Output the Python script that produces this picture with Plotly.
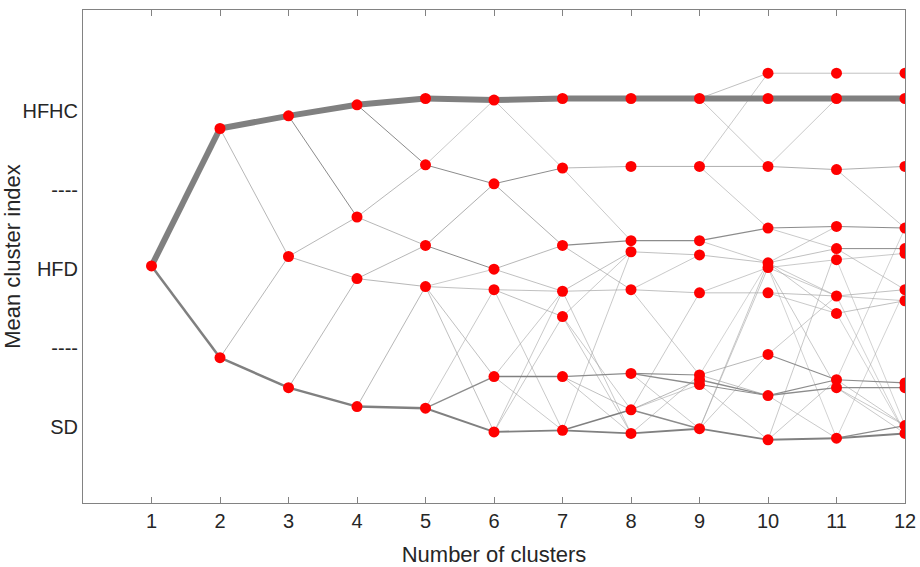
import plotly.graph_objects as go

# Mean cluster index of each cluster, for each number of clusters (k = 1..12)
cluster_means = [
    [2.02],
    [2.89, 1.44],
    [2.97, 2.08, 1.25],
    [3.04, 2.33, 1.94, 1.13],
    [3.08, 2.66, 2.15, 1.89, 1.12],
    [3.07, 2.54, 2.00, 1.87, 1.32, 0.97],
    [3.08, 2.64, 2.15, 1.86, 1.70, 1.32, 0.98],
    [3.08, 2.65, 2.18, 2.11, 1.87, 1.34, 1.11, 0.96],
    [3.08, 2.65, 2.18, 2.09, 1.85, 1.33, 1.30, 1.27, 0.99],
    [3.24, 3.08, 2.65, 2.26, 2.04, 2.01, 1.85, 1.46, 1.20, 0.92],
    [3.24, 3.08, 2.63, 2.27, 2.13, 2.06, 1.83, 1.72, 1.30, 1.25, 0.93],
    [3.24, 3.08, 2.65, 2.26, 2.13, 2.10, 1.87, 1.80, 1.28, 1.25, 1.01, 0.96],
]

# Transitions k -> k+1: (cluster index at k, cluster index at k+1, relative flow)
transitions = [
    [(0, 0, 6), (0, 1, 2.5)],
    [(0, 0, 6), (0, 1, 0.8), (1, 1, 0.8), (1, 2, 2.5)],
    [(0, 0, 6), (0, 1, 1), (1, 1, 0.8), (1, 2, 0.8), (2, 2, 0.8), (2, 3, 2.5)],
    [(0, 0, 6), (0, 1, 1), (1, 1, 0.8), (1, 2, 0.8), (2, 2, 0.8), (2, 3, 0.8),
     (3, 3, 0.8), (3, 4, 2.5)],
    [(0, 0, 6), (1, 0, 0.6), (1, 1, 1), (2, 1, 0.9), (2, 2, 1), (3, 2, 0.6),
     (3, 3, 0.7), (3, 4, 0.7), (3, 5, 0.7), (4, 3, 0.6), (4, 4, 1.4), (4, 5, 2)],
    [(0, 0, 6), (0, 1, 0.6), (1, 1, 1), (1, 2, 0.9), (2, 2, 0.8), (2, 3, 0.7),
     (3, 3, 0.7), (3, 4, 0.7), (3, 6, 0.6), (4, 3, 0.6), (4, 5, 1.5), (4, 6, 0.6),
     (5, 3, 0.6), (5, 4, 0.6), (5, 6, 1.8)],
    [(0, 0, 6), (1, 1, 0.8), (1, 2, 0.6), (2, 2, 1.2), (2, 4, 0.7), (3, 4, 0.7),
     (3, 3, 0.7), (3, 7, 0.6), (4, 3, 0.6), (4, 6, 0.6), (4, 7, 0.6), (5, 5, 1.3),
     (5, 6, 0.7), (5, 7, 0.6), (6, 6, 1.5), (6, 7, 1.8), (6, 3, 0.6)],
    [(0, 0, 6), (1, 1, 0.9), (2, 2, 1.2), (3, 3, 0.7), (4, 3, 0.6), (4, 4, 0.7),
     (4, 5, 0.6), (5, 5, 1.2), (5, 7, 1.4), (5, 8, 0.6), (6, 4, 0.6), (6, 7, 0.6),
     (6, 8, 1.4), (7, 8, 1.8), (7, 5, 0.6), (6, 6, 0.8)],
    [(0, 0, 0.7), (0, 1, 6), (0, 2, 0.6), (1, 0, 0.6), (1, 2, 0.9), (1, 3, 0.6),
     (2, 3, 1.2), (2, 4, 0.6), (3, 4, 0.7), (4, 5, 0.6), (4, 6, 0.7), (5, 7, 0.8),
     (5, 8, 0.7), (6, 8, 1.4), (7, 8, 1), (7, 9, 0.6), (8, 9, 1.8), (8, 7, 0.6),
     (8, 4, 0.6), (8, 5, 0.6), (5, 4, 0.5)],
    [(0, 0, 0.7), (1, 1, 6), (2, 1, 0.6), (2, 2, 0.9), (3, 3, 1.1), (3, 4, 0.6),
     (4, 3, 0.6), (4, 4, 0.7), (4, 6, 0.6), (4, 7, 0.6), (5, 5, 0.6), (5, 6, 0.6),
     (5, 9, 0.6), (6, 6, 0.7), (6, 7, 0.6), (7, 8, 1.1), (7, 6, 0.6), (8, 8, 1.2),
     (8, 9, 1.4), (9, 10, 2), (9, 8, 0.6), (9, 4, 0.6), (5, 10, 0.5), (8, 10, 0.6)],
    [(0, 0, 0.7), (1, 1, 6), (2, 2, 0.9), (2, 3, 0.6), (3, 3, 1.1), (4, 4, 1),
     (4, 6, 0.6), (5, 5, 0.6), (5, 10, 0.5), (6, 6, 0.7), (6, 7, 0.6), (7, 7, 0.7),
     (7, 11, 0.5), (8, 8, 1.2), (8, 10, 0.6), (8, 3, 0.5), (9, 9, 1.2), (9, 10, 0.6),
     (9, 11, 0.6), (10, 11, 2), (10, 10, 1.2), (10, 6, 0.5), (6, 11, 0.5)],
]

x_ticks = list(range(1, 13))
y_tick_vals = [1, 1.5, 2, 2.5, 3]
y_tick_text = ["SD", "----", "HFD", "----", "HFHC"]

fig = go.Figure()

# group edges by width
groups = {}
for k, edges in enumerate(transitions, start=1):
    for a, b, w in edges:
        g = groups.setdefault(w, ([], []))
        g[0].extend([k, k + 1, None])
        g[1].extend([cluster_means[k - 1][a], cluster_means[k][b], None])

for w in sorted(groups):
    xs, ys = groups[w]
    if w >= 1.5:
        col = "rgb(128,128,128)"
    elif w >= 1.0:
        col = "rgb(140,140,140)"
    else:
        col = "rgb(165,165,165)"
    fig.add_trace(go.Scatter(x=xs, y=ys, mode="lines",
                             line=dict(color=col, width=w),
                             hoverinfo="skip", showlegend=False))

mx, my = [], []
for k, vals in enumerate(cluster_means, start=1):
    for v in vals:
        mx.append(k)
        my.append(v)
fig.add_trace(go.Scatter(x=mx, y=my, mode="markers",
                         marker=dict(color="#ff0000", size=11, line=dict(width=0)),
                         showlegend=False))

axis_col = "rgb(130,130,130)"
fig.update_layout(
    width=920, height=567,
    margin=dict(l=83, r=15, t=10, b=64),
    paper_bgcolor="white", plot_bgcolor="white",
    font=dict(family="Liberation Sans, Arial, sans-serif", color="#262626"),
    xaxis=dict(range=[0, 12], tickvals=x_ticks, ticktext=[str(t) for t in x_ticks],
               showgrid=False, zeroline=False, showline=True, linecolor=axis_col,
               linewidth=1, mirror="ticks", ticks="inside", ticklen=6,
               tickcolor=axis_col, tickfont=dict(size=20), automargin=False,
               title=dict(text="Number of clusters", font=dict(size=22))),
    yaxis=dict(range=[0.52, 3.64], tickvals=y_tick_vals, ticktext=y_tick_text,
               showgrid=False, zeroline=False, showline=True, linecolor=axis_col,
               linewidth=1, mirror=True, ticks="", tickfont=dict(size=20),
               automargin=False,
               title=dict(text="Mean cluster index", font=dict(size=22))),
)

fig.write_html("out.html")
